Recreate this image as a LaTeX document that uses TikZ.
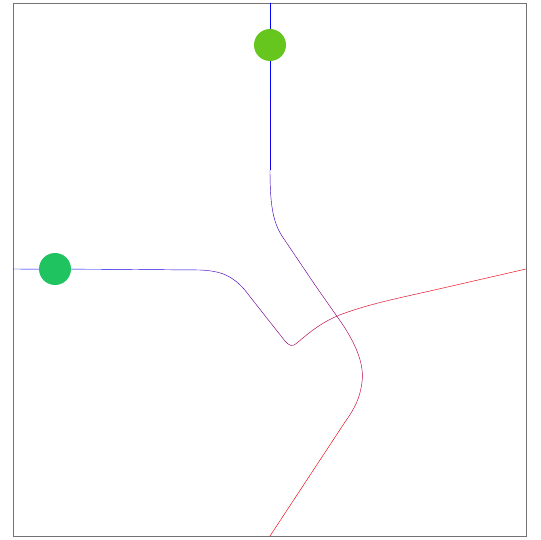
\documentclass[tikz,border=0pt]{standalone}
\usetikzlibrary{calc}
\definecolor{clime}{HTML}{66C61E}
\definecolor{cmint}{HTML}{1FC460}
\definecolor{cframe}{HTML}{737373}
\tikzset{
  every picture/.style={line width=0.45pt},
  traj/.style={draw=blue!#1!red, line width=0.45pt, line cap=round},
  traj/.default=100,
  frame/.style={draw=cframe, line width=1pt},
  agent/.style={fill=#1, draw=none},
}

\begin{document}
\begin{tikzpicture}[x=1pt, y=-1pt]
  \useasboundingbox (0,0) rectangle (540,540);
  \draw[frame] (13.5,3.5) rectangle (526,536);
  % left trajectory
  \draw[traj=100] (13,269) -- (110,269.3);
  \draw[traj=90] (110,269.3) -- (200,270);
  \draw[traj=74] (200,270) .. controls (222,271) and (232,276) .. (244,289);
  \draw[traj=60] (244,289) -- (266,317);
  \draw[traj=48] (266,317) -- (285,341);
  \draw[traj=36] (285,341) .. controls (289,346) and (293,347) .. (297,343);
  \draw[traj=26] (297,343) .. controls (312,330) and (325,320) .. (345,313);
  \draw[traj=14] (345,313) .. controls (365,306) and (380,302) .. (430,291);
  \draw[traj=4] (430,291) -- (526,269);
  % top trajectory
  \draw[traj=100] (270,3) -- (270,100);
  \draw[traj=92] (270,100) -- (270,170);
  \draw[traj=76] (270,170) .. controls (270,205) and (273,222) .. (282,236);
  \draw[traj=60] (282,236) -- (315,285);
  \draw[traj=46] (315,285) -- (343,325);
  \draw[traj=32] (343,325) .. controls (358,348) and (364,366) .. (362,382);
  \draw[traj=20] (362,382) .. controls (360,398) and (355,408) .. (345,422);
  \draw[traj=6] (345,422) -- (270,536);
  % agents
  \fill[agent=clime] (270,45) circle (16);
  \fill[agent=cmint] (55,269) circle (16);
\end{tikzpicture}
\end{document}
